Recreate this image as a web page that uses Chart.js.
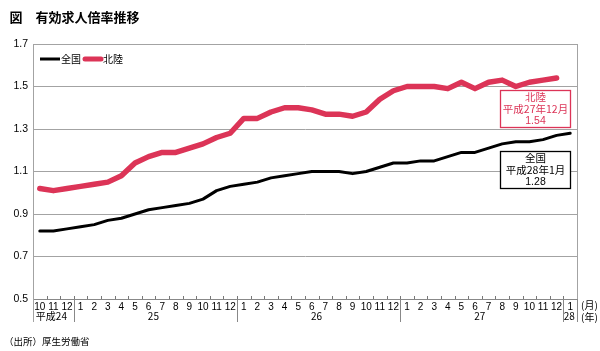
<!DOCTYPE html>
<html><head><meta charset="utf-8">
<script src="https://cdn.jsdelivr.net/npm/chart.js@4"></script>
<style>html,body{margin:0;padding:0;background:#fff;}canvas{display:block;}</style>
</head><body>
<canvas id="c" width="600" height="351"></canvas>
<script>
const monthLabels = ["10","11","12","1","2","3","4","5","6","7","8","9","10","11","12","1","2","3","4","5","6","7","8","9","10","11","12","1","2","3","4","5","6","7","8","9","10","11","12","1"];
const yearLabels = ["平成24","25","26","27","28"];
const yearStarts = [0,3,15,27,39];
const seriesNames = ["全国","北陸"];
const national = [0.82,0.82,0.83,0.84,0.85,0.87,0.88,0.90,0.92,0.93,0.94,0.95,0.97,1.01,1.03,1.04,1.05,1.07,1.08,1.09,1.10,1.10,1.10,1.09,1.10,1.12,1.14,1.14,1.15,1.15,1.17,1.19,1.19,1.21,1.23,1.24,1.24,1.25,1.27,1.28];
const hokuriku = [1.02,1.01,1.02,1.03,1.04,1.05,1.08,1.14,1.17,1.19,1.19,1.21,1.23,1.26,1.28,1.35,1.35,1.38,1.40,1.40,1.39,1.37,1.37,1.36,1.38,1.44,1.48,1.50,1.50,1.50,1.49,1.52,1.49,1.52,1.53,1.50,1.52,1.53,1.54,null];
const annotPeriods = ["平成28年1月","平成27年12月"];
const yTicks = [0.5,0.7,0.9,1.1,1.3,1.5,1.7];

const RED = '#dc3457';
const GRID = '#a3a3a3';
const FONT = "'Liberation Sans', Arial, 'Noto Sans CJK JP', sans-serif";
const JFONT = "'Noto Sans CJK JP', 'Liberation Sans', sans-serif";

const extras = {
  id: 'extras',
  beforeDraw(chart) {
    const c = chart.ctx;
    c.save(); c.fillStyle = '#fff'; c.fillRect(0,0,chart.width,chart.height); c.restore();
  },
  afterDatasetsDraw(chart) {
    const c = chart.ctx, xs = chart.scales.x, ys = chart.scales.y, a = chart.chartArea;
    c.save();
    // right border
    c.strokeStyle = GRID; c.lineWidth = 1;
    c.beginPath(); c.moveTo(Math.round(a.right)+0.5, a.top); c.lineTo(Math.round(a.right)+0.5, 322); c.stroke();
    // small ticks at category boundaries
    c.strokeStyle = '#777';
    for (let i = 0; i < monthLabels.length - 1; i++) {
      const x = Math.round((xs.getPixelForValue(i) + xs.getPixelForValue(i+1)) / 2) + 0.5;
      c.beginPath(); c.moveTo(x, a.bottom - 3); c.lineTo(x, a.bottom); c.stroke();
    }
    // year separators
    const bounds = yearStarts.map(k => k === 0 ? a.left : (xs.getPixelForValue(k-1) + xs.getPixelForValue(k)) / 2);
    bounds.push(a.right);
    c.strokeStyle = '#888';
    bounds.forEach(b => {
      const x = Math.round(b) + 0.5;
      c.beginPath(); c.moveTo(x, a.bottom); c.lineTo(x, 322); c.stroke();
    });
    // year labels
    c.fillStyle = '#000'; c.font = '10px ' + JFONT; c.textAlign = 'center'; c.textBaseline = 'middle';
    yearLabels.forEach((t, j) => {
      const cx = (bounds[j] + bounds[j+1]) / 2 - (j === 4 ? 1 : 2);
      c.fillText(t, cx, 316.5);
    });
    c.textAlign = 'left';
    c.fillText('(月)', a.right + 4, 305);
    c.fillText('(年)', a.right + 4, 317);
    // title
    c.font = 'bold 13px ' + JFONT; c.textBaseline = 'alphabetic';
    c.fillText('図　有効求人倍率推移', 9.5, 22);
    // source
    c.font = '9.5px ' + JFONT; c.textBaseline = 'middle';
    c.fillText('（出所）厚生労働省', 4, 341);
    // legend
    const ly = 59;
    c.lineCap = 'butt';
    c.strokeStyle = '#000'; c.lineWidth = 3;
    c.beginPath(); c.moveTo(a.left + 7, ly); c.lineTo(a.left + 27, ly); c.stroke();
    c.font = '10px ' + JFONT; c.fillStyle = '#000'; c.textBaseline = 'middle';
    c.fillText(seriesNames[0], a.left + 28, ly);
    c.strokeStyle = RED; c.lineWidth = 5;
    c.lineCap = 'round';
    c.beginPath(); c.moveTo(a.left + 52, ly); c.lineTo(a.left + 68, ly); c.stroke();
    c.fillText(seriesNames[1], a.left + 70, ly);
    // annotation boxes
    const boxes = [
      {series: hokuriku, name: seriesNames[1], period: annotPeriods[1], color: RED, dy: 12},
      {series: national, name: seriesNames[0], period: annotPeriods[0], color: '#000', dy: 17.5}
    ];
    boxes.forEach(bx => {
      let idx = bx.series.length - 1;
      while (bx.series[idx] == null) idx--;
      const py = ys.getPixelForValue(bx.series[idx]);
      const w = 70, h = 37;
      const right = a.right - 6.5;
      const left = right - w, top = Math.round(py + bx.dy) + 0.5;
      c.fillStyle = '#fff'; c.fillRect(left, top, w, h);
      c.strokeStyle = bx.color; c.lineWidth = 1.3; c.lineCap = 'butt';
      c.strokeRect(left, top, w, h);
      c.fillStyle = bx.color; c.textAlign = 'center'; c.textBaseline = 'middle';
      c.font = '10.5px ' + JFONT;
      const cx = left + w / 2;
      c.fillText(bx.name, cx, top + 7);
      c.fillText(bx.period, cx, top + 19);
      c.font = '10.5px ' + FONT;
      c.fillText(bx.series[idx].toFixed(2), cx, top + 31);
    });
    c.restore();
  },
  afterDraw(chart) {
    const c = chart.ctx, a = chart.chartArea;
    c.save(); c.strokeStyle = GRID; c.lineWidth = 1;
    const x = Math.round(a.left) + 0.5;
    c.beginPath(); c.moveTo(x, a.bottom); c.lineTo(x, 322); c.stroke();
    c.restore();
  }
};

new Chart(document.getElementById('c'), {
  type: 'line',
  data: {
    labels: monthLabels,
    datasets: [
      {label: seriesNames[0], data: national, borderColor: '#000', borderWidth: 3, pointRadius: 0, tension: 0, borderJoinStyle: 'round', borderCapStyle: 'round', fill: false},
      {label: seriesNames[1], data: hokuriku, borderColor: RED, borderWidth: 5.5, pointRadius: 0, tension: 0, borderJoinStyle: 'round', borderCapStyle: 'round', fill: false}
    ]
  },
  options: {
    responsive: false, animation: false, devicePixelRatio: 1,
    layout: {padding: {left: 0, right: 23, top: 44, bottom: 0}},
    plugins: {legend: {display: false}, tooltip: {enabled: false}, title: {display: false}},
    scales: {
      x: {
        offset: true,
        grid: {display: false, drawTicks: false},
        border: {display: true, color: '#888'},
        ticks: {autoSkip: false, maxRotation: 0, minRotation: 0, padding: 2, color: '#000', font: {size: 10, family: FONT}},
        afterFit(s) { s.height = 52; }
      },
      y: {
        min: 0.5, max: 1.7,
        afterBuildTicks(s) { s.ticks = yTicks.map(v => ({value: v})); },
        ticks: {callback: v => Number(v).toFixed(1), padding: 5, color: '#000', font: {size: 10.5, family: FONT}},
        grid: {color: GRID, drawTicks: false, lineWidth: 1},
        border: {display: true, color: GRID},
        afterFit(s) { s.width = 33; }
      }
    }
  },
  plugins: [extras]
});
</script>
</body></html>
